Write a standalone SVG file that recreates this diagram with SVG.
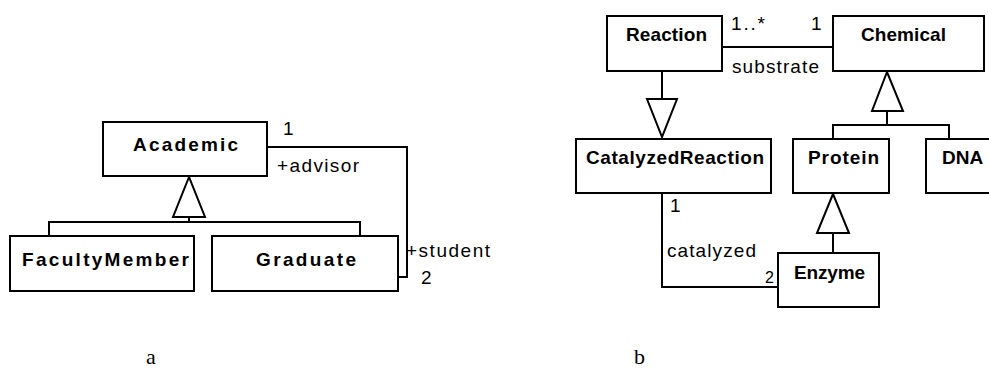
<svg xmlns="http://www.w3.org/2000/svg" width="989" height="378" viewBox="0 0 989 378">
<style>
.box{fill:#fff;stroke:#000;stroke-width:2}
.ln{fill:none;stroke:#000;stroke-width:2}
.tri{fill:#fff;stroke:#000;stroke-width:2;stroke-linejoin:miter}
.b{font-family:"Liberation Sans",Arial,sans-serif;font-weight:bold;font-size:19px;fill:#000}
.n{font-family:"Liberation Sans",Arial,sans-serif;font-size:19px;fill:#000}
.cap{font-family:"Liberation Serif","Times New Roman",serif;font-size:22px;fill:#000}
</style>
<rect width="989" height="378" fill="#fff"/>
<g id="connectors">
  <polyline class="ln" points="189,217 189,222"/>
  <polyline class="ln" points="49,236 49,222 360,222 360,236"/>
  <polygon class="tri" points="189,177 173,217 205,217"/>
  <polyline class="ln" points="267,147 407,147 407,277 398,277"/>
  <line class="ln" x1="722" y1="47" x2="833" y2="47"/>
  <line class="ln" x1="662" y1="71" x2="662" y2="99"/>
  <polygon class="tri" points="647,99 677,99 662,137"/>
  <polygon class="tri" points="887,72 872,111 903,111"/>
  <line class="ln" x1="887" y1="111" x2="887" y2="125"/>
  <polyline class="ln" points="833,139 833,125 949,125 949,139"/>
  <polyline class="ln" points="662,193 662,287 778,287"/>
  <polygon class="tri" points="833,194 817,233 849,233"/>
  <line class="ln" x1="833" y1="233" x2="833" y2="253"/>
</g>
<g id="labels">
  <text class="n" x="283" y="135">1</text>
  <text class="n" x="277" y="172" textLength="82" lengthAdjust="spacing">+advisor</text>
  <text class="n" x="406" y="257" textLength="84" lengthAdjust="spacing">+student</text>
  <text class="n" x="421" y="284">2</text>
  <text class="n" x="731" y="30" textLength="34" lengthAdjust="spacing">1..*</text>
  <text class="n" x="811" y="30">1</text>
  <text class="n" x="732" y="73" textLength="87" lengthAdjust="spacing">substrate</text>
  <text class="n" x="670" y="212">1</text>
  <text class="n" x="667" y="257" textLength="89" lengthAdjust="spacing">catalyzed</text>
  <text class="n" x="765" y="283" style="font-size:16px">2</text>
</g>
<g id="Academic">
  <rect class="box" x="103" y="122" width="164" height="54"/>
  <text class="b" x="133" y="151" textLength="105" lengthAdjust="spacing">Academic</text>
</g>
<g id="FacultyMember">
  <rect class="box" x="10" y="236" width="184" height="55"/>
  <text class="b" x="22" y="266" textLength="167" lengthAdjust="spacing">FacultyMember</text>
</g>
<g id="Graduate">
  <rect class="box" x="212" y="236" width="186" height="55"/>
  <text class="b" x="256" y="266" textLength="100" lengthAdjust="spacing">Graduate</text>
</g>
<g id="Reaction">
  <rect class="box" x="607" y="16" width="115" height="55"/>
  <text class="b" x="626" y="41" textLength="81" lengthAdjust="spacing">Reaction</text>
</g>
<g id="Chemical">
  <rect class="box" x="833" y="16" width="151" height="55"/>
  <text class="b" x="861" y="41" textLength="85" lengthAdjust="spacing">Chemical</text>
</g>
<g id="CatalyzedReaction">
  <rect class="box" x="576" y="139" width="195" height="54"/>
  <text class="b" x="586" y="164" textLength="178" lengthAdjust="spacing">CatalyzedReaction</text>
</g>
<g id="Protein">
  <rect class="box" x="793" y="139" width="96" height="54"/>
  <text class="b" x="808" y="164" textLength="71" lengthAdjust="spacing">Protein</text>
</g>
<g id="DNA">
  <rect class="box" x="926" y="139" width="70" height="54"/>
  <text class="b" x="942" y="164">DNA</text>
</g>
<g id="Enzyme">
  <rect class="box" x="778" y="253" width="101" height="54"/>
  <text class="b" x="794" y="279" textLength="71" lengthAdjust="spacing">Enzyme</text>
</g>
<g id="captions">
  <text class="cap" x="146" y="364">a</text>
  <text class="cap" x="634" y="364">b</text>
</g>
</svg>
